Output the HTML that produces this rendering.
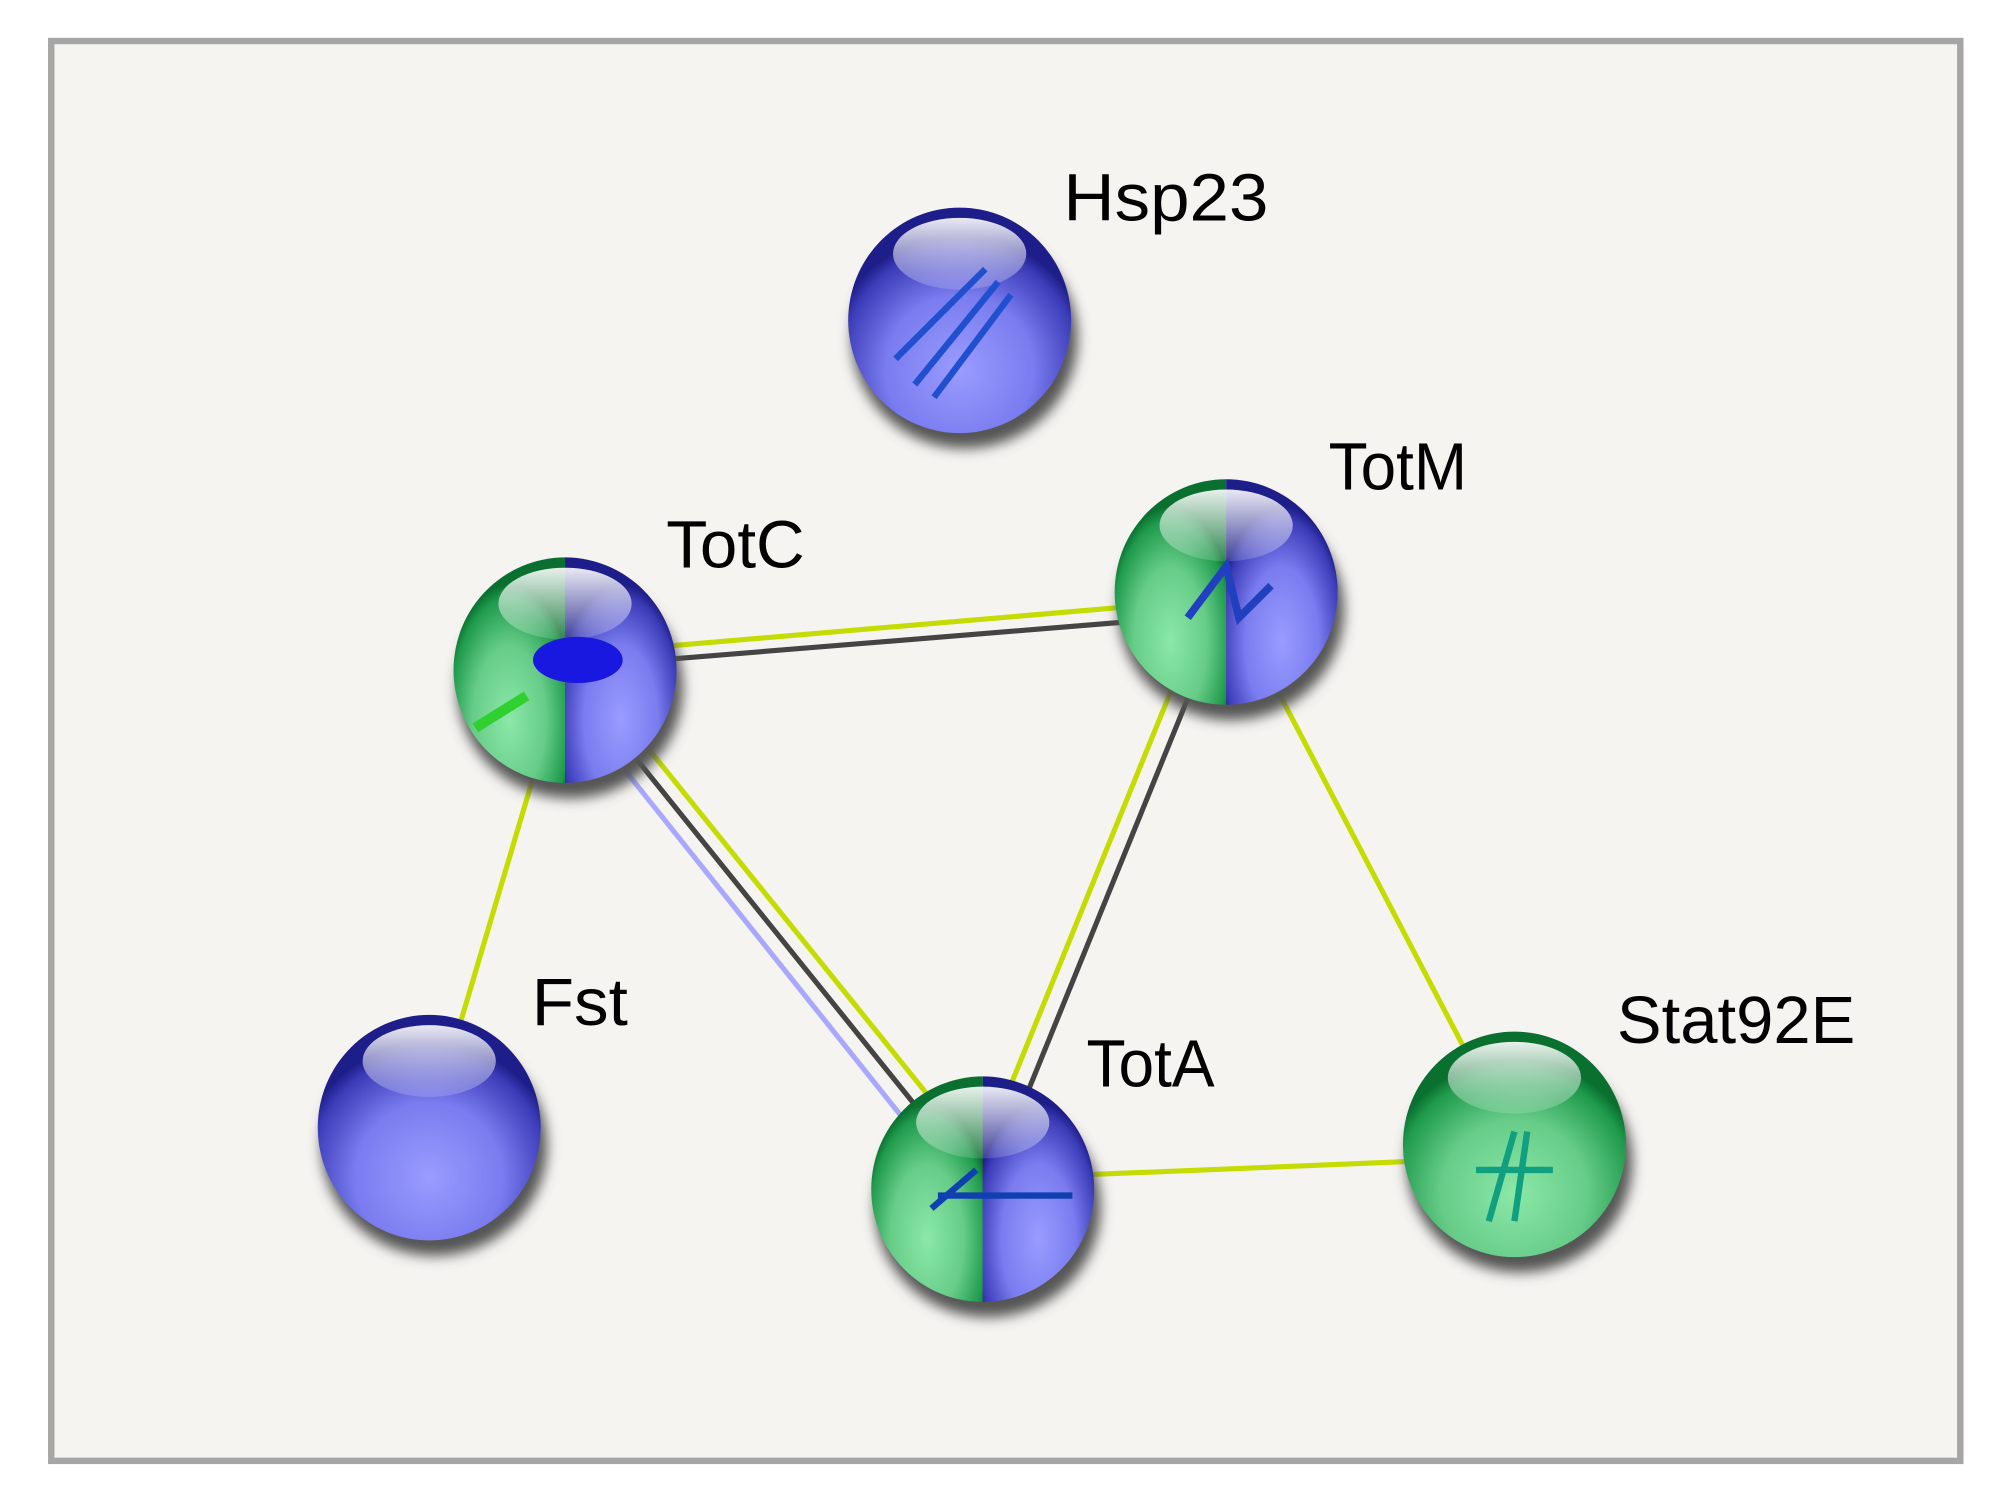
<!DOCTYPE html>
<html><head><meta charset="utf-8"><style>
html,body{margin:0;padding:0;background:#fff;}
svg{display:block;}
text{font-family:"Liberation Sans",sans-serif;font-size:52px;fill:#000;}
</style></head><body>
<svg width="2009" height="1507" viewBox="0 0 1568 1176" preserveAspectRatio="none" xmlns="http://www.w3.org/2000/svg">
<defs>
<radialGradient id="gb" cx="0.5" cy="0.72" r="0.6">
<stop offset="0" stop-color="#9a9cff"/><stop offset="0.55" stop-color="#7a7cef"/><stop offset="0.9" stop-color="#3c3cb8"/><stop offset="1" stop-color="#1e1e8a"/>
</radialGradient>
<radialGradient id="gg" cx="0.5" cy="0.72" r="0.6">
<stop offset="0" stop-color="#8ce8a8"/><stop offset="0.55" stop-color="#66cc88"/><stop offset="0.9" stop-color="#1f9a4c"/><stop offset="1" stop-color="#0a7030"/>
</radialGradient>
<linearGradient id="hl" x1="0" y1="0" x2="0" y2="1">
<stop offset="0" stop-color="#fff" stop-opacity="0.9"/><stop offset="1" stop-color="#fff" stop-opacity="0.15"/>
</linearGradient>
<filter id="bl"><feGaussianBlur stdDeviation="5"/></filter>
<g id="hilite"><ellipse cx="0" cy="-52" rx="52" ry="28" fill="url(#hl)"/></g>
</defs>
<rect x="40" y="32" width="1490" height="1108" fill="#f5f4f1" stroke="#a6a6a6" stroke-width="5"/>

<g stroke-width="4" fill="none">
<line x1="441" y1="511" x2="957" y2="467" stroke="#c4dc00"/>
<line x1="441" y1="521" x2="957" y2="479" stroke="#444"/>
<line x1="431" y1="530" x2="757" y2="938" stroke="#a8a8ff"/>
<line x1="441" y1="523" x2="767" y2="928" stroke="#444"/>
<line x1="451" y1="516" x2="777" y2="920" stroke="#c4dc00"/>
<line x1="947" y1="458" x2="757" y2="925" stroke="#c4dc00"/>
<line x1="960" y1="464" x2="770" y2="931" stroke="#444"/>
<line x1="441" y1="523" x2="335" y2="880" stroke="#c4dc00"/>
<line x1="957" y1="462" x2="1182" y2="893" stroke="#c4dc00"/>
<line x1="767" y1="920" x2="1182" y2="903" stroke="#c4dc00"/>
</g>

<g>
<g transform="translate(749,250)">
<ellipse cx="4" cy="14" rx="88" ry="86" fill="#555" filter="url(#bl)"/>
<ellipse rx="87" ry="88" fill="url(#gb)"/>
<use href="#hilite"/>
<path d="M-50 30 L20 -40 M-35 50 L30 -30 M-20 60 L40 -20" stroke="#2050d0" stroke-width="5"/>
</g>
<g transform="translate(335,880)">
<ellipse cx="4" cy="14" rx="88" ry="86" fill="#555" filter="url(#bl)"/>
<ellipse rx="87" ry="88" fill="url(#gb)"/>
<use href="#hilite"/>
</g>
<g transform="translate(1182,893)">
<ellipse cx="4" cy="14" rx="88" ry="86" fill="#555" filter="url(#bl)"/>
<ellipse rx="87" ry="88" fill="url(#gg)"/>
<use href="#hilite"/>
<path d="M-20 60 L0 -10 M0 60 L10 -10 M-30 20 L30 20" stroke="#10a080" stroke-width="5"/>
</g>
<g transform="translate(441,523)">
<ellipse cx="4" cy="14" rx="88" ry="86" fill="#555" filter="url(#bl)"/>
<path d="M0 -88 A87 88 0 0 0 0 88 Z" fill="url(#gg)"/>
<path d="M0 -88 A87 88 0 0 1 0 88 Z" fill="url(#gb)"/>
<use href="#hilite"/>
<ellipse cx="10" cy="-8" rx="35" ry="18" fill="#1818e0"/>
<path d="M-70 45 L-30 20" stroke="#30d030" stroke-width="8"/>
</g>
<g transform="translate(957,462)">
<ellipse cx="4" cy="14" rx="88" ry="86" fill="#555" filter="url(#bl)"/>
<path d="M0 -88 A87 88 0 0 0 0 88 Z" fill="url(#gg)"/>
<path d="M0 -88 A87 88 0 0 1 0 88 Z" fill="url(#gb)"/>
<use href="#hilite"/>
<path d="M-30 20 L0 -20 L10 20 L35 -5" stroke="#2040c0" stroke-width="6" fill="none"/>
</g>
<g transform="translate(767,928)">
<ellipse cx="4" cy="14" rx="88" ry="86" fill="#555" filter="url(#bl)"/>
<path d="M0 -88 A87 88 0 0 0 0 88 Z" fill="url(#gg)"/>
<path d="M0 -88 A87 88 0 0 1 0 88 Z" fill="url(#gb)"/>
<use href="#hilite"/>
<path d="M-40 15 L-5 -15 M-35 5 L70 5" stroke="#1040b0" stroke-width="5" fill="none"/>
</g>
</g>

<text x="830" y="172" textLength="160" lengthAdjust="spacingAndGlyphs">Hsp23</text>
<text x="1037" y="382" textLength="108" lengthAdjust="spacingAndGlyphs">TotM</text>
<text x="520" y="443" textLength="108" lengthAdjust="spacingAndGlyphs">TotC</text>
<text x="415" y="800" textLength="75" lengthAdjust="spacingAndGlyphs">Fst</text>
<text x="848" y="848" textLength="100" lengthAdjust="spacingAndGlyphs">TotA</text>
<text x="1262" y="814" textLength="186" lengthAdjust="spacingAndGlyphs">Stat92E</text>
</svg>
</body></html>
